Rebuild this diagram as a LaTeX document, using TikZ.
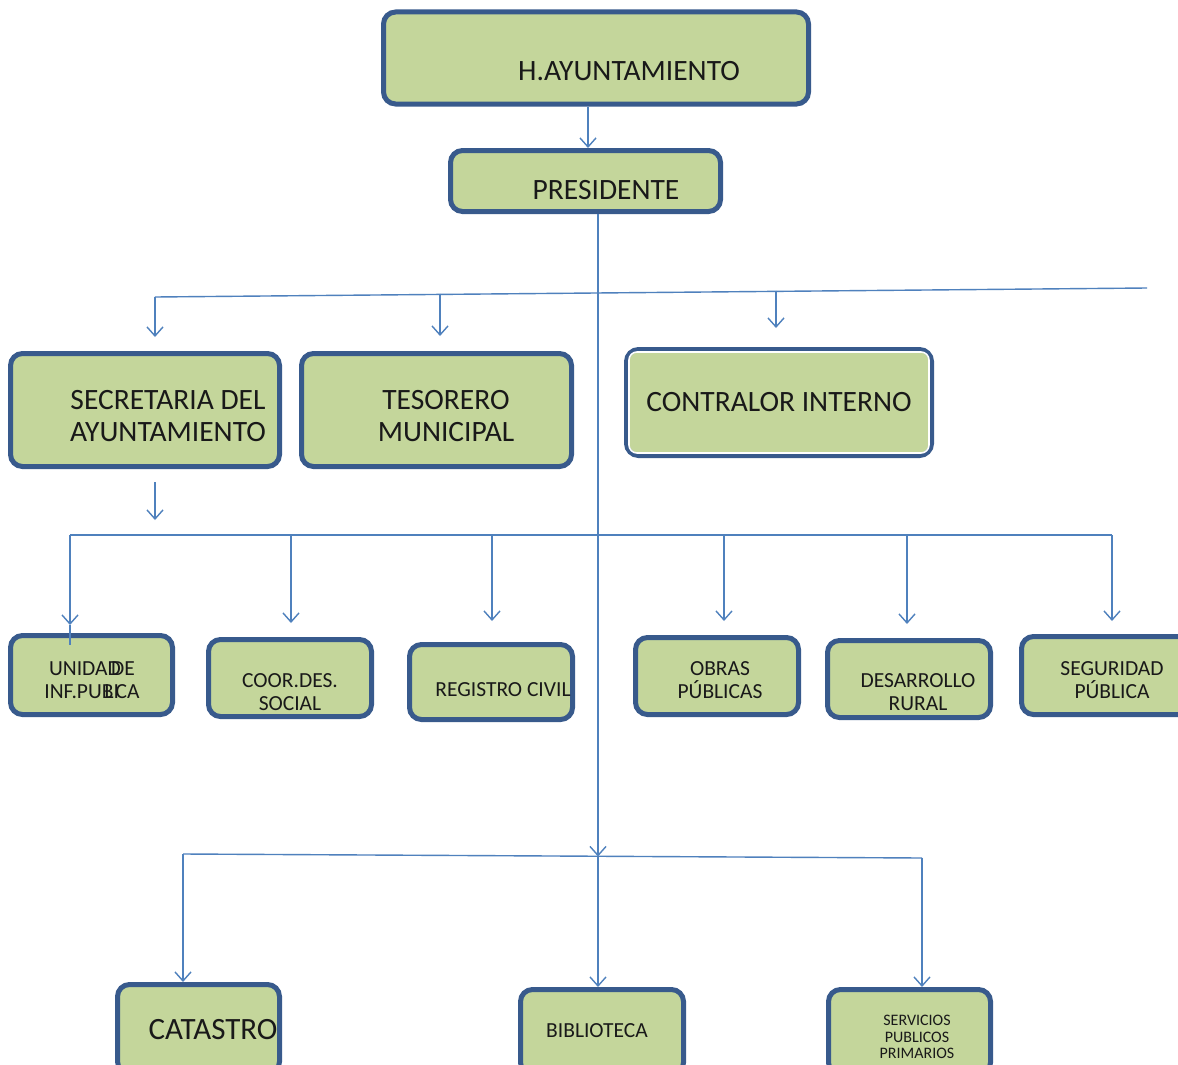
\documentclass[tikz,border=0pt]{standalone}
\usepackage{fontspec}
\setmainfont{Carlito}
\usetikzlibrary{arrows.meta}
\definecolor{boxgreen}{RGB}{196,214,155}
\definecolor{boxblue}{RGB}{56,90,140}
\definecolor{lineblue}{RGB}{79,129,189}
\tikzset{
  box/.style={draw=boxblue, line width=5pt, fill=boxgreen, rounded corners=12pt, inner sep=0pt},
  conn/.style={draw=lineblue, line width=1.4pt},
  arr/.style={conn, -{Straight Barb[length=9pt,width=16pt,line width=1.4pt]}},
  big/.style={font=\fontsize{29.5}{32}\selectfont, align=center, inner sep=0pt, text=black!90},
  mid/.style={font=\fontsize{21.5}{23}\selectfont, align=center, inner sep=0pt, text=black!90},
  sml/.style={font=\fontsize{16}{16.5}\selectfont, align=center, inner sep=0pt, text=black!90},
}
\begin{document}
\begin{tikzpicture}[x=1pt,y=-1pt]
\clip (0,0) rectangle (1178,1065);
\fill[white] (0,0) rectangle (1178,1065);
% boxes: centre and outer size minus line width
\node[box, minimum width=425pt, minimum height=92pt] (hay) at (596,58) {};
\node[big] (thay) at (629,71) {H.AYUNTAMIENTO};
\node[box, minimum width=270pt, minimum height=61pt] (pres) at (585.5,181) {};
\node[big] (tpres) at (606,190) {PRESIDENTE};

\node[box, minimum width=269pt, minimum height=113pt] (sec) at (145,410) {};
\node[big] (tsec) at (168,416) {SECRETARIA DEL\\AYUNTAMIENTO};
\node[box, minimum width=270pt, minimum height=113pt] (tes) at (436.5,410) {};
\node[big] (ttes) at (446,416) {TESORERO\\MUNICIPAL};
\node[box, minimum width=305pt, minimum height=106pt] (con) at (779,402.5) {};
\draw[white, line width=1.6pt, rounded corners=8pt] ([shift={(5,5)}]con.north west) rectangle ([shift={(-5,-5)}]con.south east);
\node[big] (tcon) at (779,402) {CONTRALOR INTERNO};

\node[box, minimum width=162pt, minimum height=79pt] (uni) at (91.5,675) {};
\node[mid] (tuni) at (92,680) {UNIDAD\kern-0.45em DE\\INF.PUB\kern-0.42em LI\kern-0.15em CA};
\node[box, minimum width=163pt, minimum height=77pt] (coo) at (290,678) {};
\node[mid] (tcoo) at (290,692) {COOR.DES.\\SOCIAL};
\node[box, minimum width=163pt, minimum height=75pt] (reg) at (491,682) {};
\node[mid] (treg) at (503,690) {REGISTRO CIVIL};
\node[box, minimum width=163pt, minimum height=77pt] (obr) at (717,676) {};
\node[mid] (tobr) at (720,680) {OBRAS\\PÚBLICAS};
\node[box, minimum width=163pt, minimum height=77pt] (des) at (909,679) {};
\node[mid] (tdes) at (918,692) {DESARROLLO\\RURAL};
\node[box, minimum width=169pt, minimum height=78pt] (seg) at (1106,675.5) {};
\node[mid] (tseg) at (1112,680) {SEGURIDAD\\PÚBLICA};

\node[box, minimum width=162pt, minimum height=89pt] (cat) at (198.5,1029) {};
\node[big, font=\fontsize{31}{32}\selectfont] (tcat) at (213,1030) {CATASTRO};
\node[box, minimum width=163pt, minimum height=85pt] (bib) at (602,1032) {};
\node[mid] (tbib) at (597,1031) {BIBLIOTECA};
\node[box, minimum width=162pt, minimum height=85pt] (ser) at (909.5,1032) {};
\node[sml] (tser) at (917,1037) {SERVICIOS\\PUBLICOS\\PRIMARIOS};

% bus coordinates
\coordinate (t1) at (155,297);
\coordinate (t2) at (440,293.5);
\coordinate (t3) at (776,290.5);
\coordinate (t4) at (1147,288);
\coordinate (m1) at (70,535);
\coordinate (m2) at (291,535);
\coordinate (m3) at (492,535);
\coordinate (m4) at (724,535);
\coordinate (m5) at (907,535);
\coordinate (m6) at (1112,535);
\coordinate (b1) at (183,854);
\coordinate (b2) at (598,856.5);
\coordinate (b3) at (922,858);
\coordinate (secout) at (155,482);

% connectors
\draw[arr] (hay.south -| 588,0) -- (pres.north -| 588,0);
\draw[arr] (pres.south -| b2) -- (b2);
\draw[conn] (t1) -- (t4);
\draw[arr] (t1) -- (155,337);
\draw[arr] (t2) -- (440,336);
\draw[arr] (t3) -- (776,328);
\draw[arr] (secout) -- (155,520);
\draw[conn] (m1) -- (m6);
\draw[arr] (m1) -- (70,625);
\draw[conn] (70,625) -- (70,645);
\draw[arr] (m2) -- (291,623);
\draw[arr] (m3) -- (492,621);
\draw[arr] (m4) -- (724,621);
\draw[arr] (m5) -- (907,624);
\draw[arr] (m6) -- (1112,621);
\draw[conn] (b1) -- (b3);
\draw[arr] (b1) -- (cat.north -| b1);
\draw[arr] (b2) -- (bib.north -| b2);
\draw[arr] (b3) -- (ser.north -| b3);
\end{tikzpicture}
\end{document}
